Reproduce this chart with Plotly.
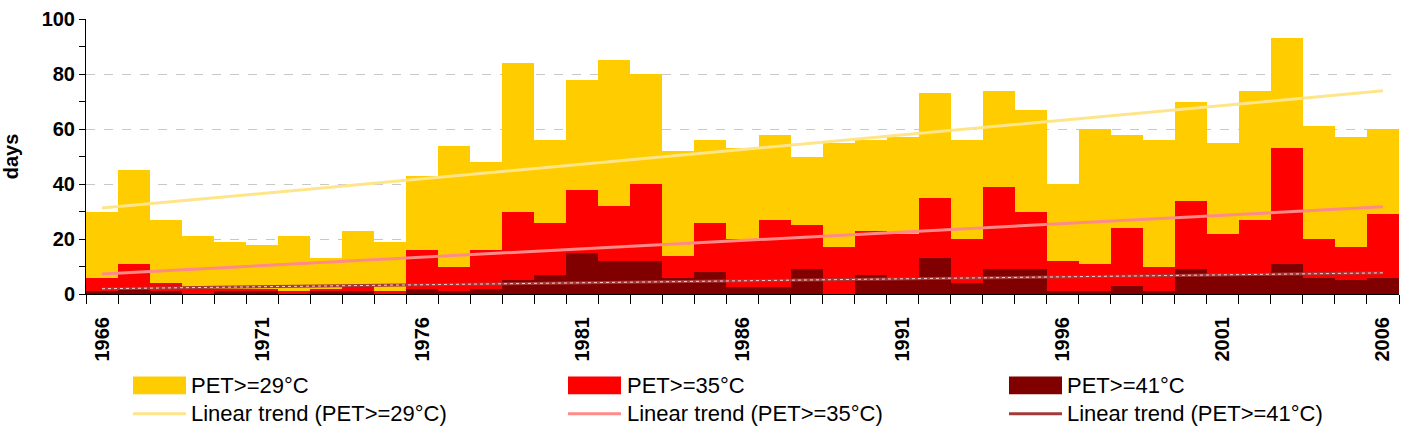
import plotly.graph_objects as go
import numpy as np

years = list(range(1966, 2007))
pet29 = [30, 45, 27, 21, 19, 18, 21, 13, 23, 19,
         43, 54, 48, 84, 56, 78, 85, 80, 52, 56,
         53, 58, 50, 55, 56, 57, 73, 56, 74, 67,
         40, 60, 58, 56, 70, 55, 74, 93, 61, 57, 60]
pet35 = [6, 11, 4, 2, 2, 2, 1, 2, 3, 1,
         16, 10, 16, 30, 26, 38, 32, 40, 14, 26,
         20, 27, 25, 17, 23, 22, 35, 20, 39, 30,
         12, 11, 24, 10, 34, 22, 27, 53, 20, 17, 29]
pet41 = [1, 2, 1, 0, 1, 1, 0, 1, 1, 0,
         2, 1, 2, 5, 7, 15, 12, 12, 6, 8,
         2.5, 2.5, 9, 0, 7, 6, 13, 4, 9, 9,
         1, 1, 3, 1, 9, 7, 7, 11, 6, 5, 6]
tick_years = [1966, 1971, 1976, 1981, 1986, 1991, 1996, 2001, 2006]
y_ticks = [0, 20, 40, 60, 80, 100]

series = [
    ("PET>=29°C", pet29, "#FFCC00", "#FFE58A", 3),
    ("PET>=35°C", pet35, "#FF0000", "#FF8A8A", 3),
    ("PET>=41°C", pet41, "#800000", "#A33A3A", 3),
]

fig = go.Figure()
for name, vals, col, tcol, tw in series:
    fig.add_trace(go.Bar(x=years, y=vals, name=name, width=1,
                         marker=dict(color=col, line=dict(width=0)),
                         showlegend=False))
for name, vals, col, tcol, tw in series:
    a, b = np.polyfit(years, vals, 1)
    ty = [a * yr + b for yr in years]
    fig.add_trace(go.Scatter(x=years, y=ty, mode="lines", name="Linear trend (" + name + ")",
                             line=dict(color=tcol, width=tw), showlegend=False))
    if name == "PET>=41°C":
        fig.add_trace(go.Scatter(x=years, y=ty, mode="lines", line=dict(color="#FFD0D0", width=1, dash="dot"),
                                 showlegend=False, hoverinfo="skip"))

L, R, T, B = 86, 1399, 14, 294
W, H = 1407, 438

def px(x):
    return (x - L) / (R - L)

def py(y):
    return (B - y) / (B - T)

shapes = []
annotations = []
cols = [(133, 186, 189), (568, 621, 625), (1009, 1062, 1065)]
row1, row2 = 387, 416
legfont = dict(family="Liberation Sans Narrow, Arial Narrow, Liberation Sans, Arial", size=22, color="black")
for (x0, x1, tx), (name, vals, col, tcol, tw) in zip(cols, series):
    shapes.append(dict(type="rect", xref="paper", yref="paper", x0=px(x0), x1=px(x1),
                       y0=py(row1 + 9), y1=py(row1 - 9), fillcolor=col, line=dict(width=0)))
    shapes.append(dict(type="line", xref="paper", yref="paper", x0=px(x0), x1=px(x1),
                       y0=py(row2), y1=py(row2), line=dict(color=tcol, width=3)))
    annotations.append(dict(xref="paper", yref="paper", x=px(tx), y=py(row1), text=name,
                            showarrow=False, xanchor="left", yanchor="middle", font=legfont))
    annotations.append(dict(xref="paper", yref="paper", x=px(tx), y=py(row2), text="Linear trend (" + name + ")",
                            showarrow=False, xanchor="left", yanchor="middle", font=legfont))

fig.update_layout(
    width=W, height=H,
    margin=dict(l=L, r=W - R, t=T, b=H - B),
    barmode="overlay", bargap=0,
    plot_bgcolor="white", paper_bgcolor="white",
    font=dict(family="Liberation Sans, Arial", color="black"),
    shapes=shapes, annotations=annotations,
    xaxis=dict(range=[1965.5, 2006.5], tickmode="array", tickvals=tick_years,
               ticktext=[str(t) for t in tick_years], tickangle=-90, ticks="",
               ticklabelstandoff=14,
               tickfont=dict(size=20, weight="bold", color="black"),
               showline=True, linecolor="black", linewidth=1, showgrid=False, zeroline=False,
               minor=dict(tickmode="array", tickvals=[yr - 0.5 for yr in years] + [2006.5],
                          ticks="outside", ticklen=9, tickcolor="black", tickwidth=1, showgrid=False)),
    yaxis=dict(range=[0, 100], tickmode="array", tickvals=y_ticks, ticks="outside", ticklen=6,
               tickcolor="black", tickfont=dict(size=20, weight="bold", color="black"),
               showline=True, linecolor="black", linewidth=1, zeroline=False,
               showgrid=True, gridcolor="#C8C8C8", griddash="dash", gridwidth=1,
               minor=dict(dtick=10, tick0=0, ticks="outside", ticklen=6, tickcolor="black", showgrid=False),
               title=dict(text="days", font=dict(size=20, weight="bold", color="black"), standoff=18)),
)

fig.write_html("out.html")
